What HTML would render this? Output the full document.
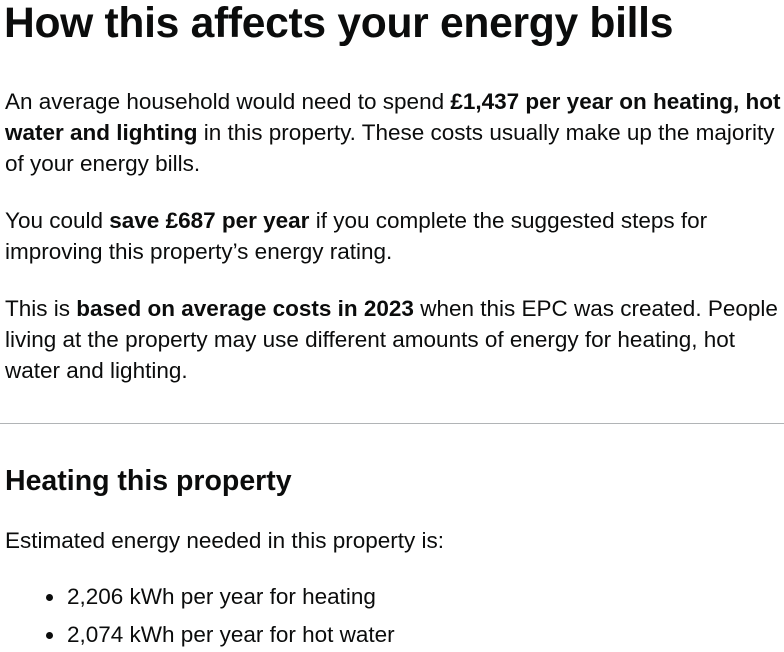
<!DOCTYPE html>
<html><head><meta charset="utf-8"><style>
body{margin:0;width:784px;height:652px;background:#fff;color:#0b0c0c;font-family:"Liberation Sans",Arial,sans-serif;overflow:hidden;position:relative}
.l{position:absolute;left:5px;white-space:nowrap;font-size:22.5px;line-height:31px}
b{font-weight:700}
h1{position:absolute;left:4px;top:-5px;margin:0;font-size:42.6px;line-height:56px;font-weight:700;white-space:nowrap;letter-spacing:-0.3px}
h2{position:absolute;left:5px;top:463px;margin:0;font-size:28.5px;line-height:36px;font-weight:700;white-space:nowrap}
hr{position:absolute;left:0;top:423px;width:784px;margin:0;border:0;border-top:1px solid #b1b4b6}
.dot{position:absolute;left:46px;width:7px;height:7px;border-radius:50%;background:#0b0c0c}
</style></head><body>
<h1>How this affects your energy bills</h1>
<div class="l" style="top:86px">An average household would need to spend <b>£1,437 per year on heating, hot</b></div>
<div class="l" style="top:117px"><b>water and lighting</b> in this property. These costs usually make up the majority</div>
<div class="l" style="top:148px">of your energy bills.</div>
<div class="l" style="top:205px">You could <b>save £687 per year</b> if you complete the suggested steps for</div>
<div class="l" style="top:236px">improving this property’s energy rating.</div>
<div class="l" style="top:293px">This is <b>based on average costs in 2023</b> when this EPC was created. People</div>
<div class="l" style="top:324px">living at the property may use different amounts of energy for heating, hot</div>
<div class="l" style="top:355px">water and lighting.</div>
<hr>
<h2>Heating this property</h2>
<div class="l" style="top:525px">Estimated energy needed in this property is:</div>
<div class="dot" style="top:594px"></div>
<div class="l" style="top:581px;left:67px">2,206 kWh per year for heating</div>
<div class="dot" style="top:632px"></div>
<div class="l" style="top:619px;left:67px">2,074 kWh per year for hot water</div>
</body></html>
